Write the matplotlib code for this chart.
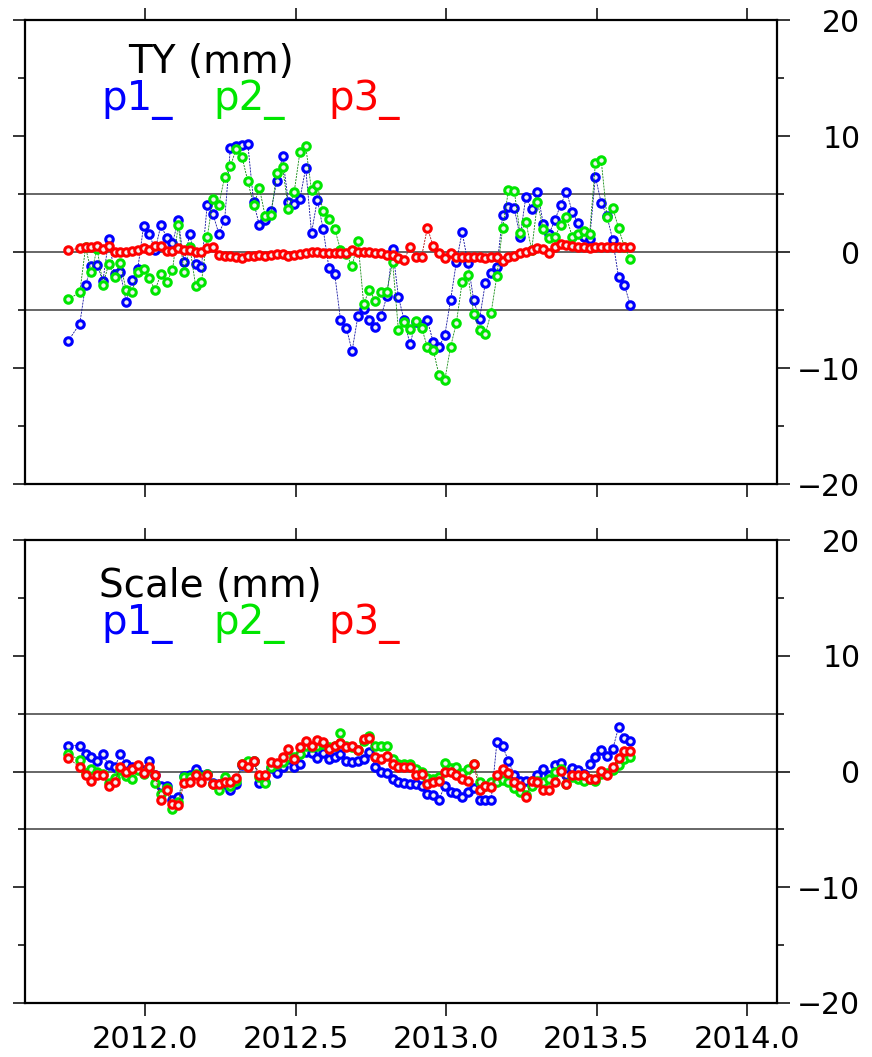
import numpy as np
import matplotlib
matplotlib.use("Agg")
import matplotlib.pyplot as plt

plt.rcParams['font.family'] = ['DejaVu Sans']

# ---------------- data ----------------
T0 = 2011.7436          # decimal year of first sample
STEP = 0.01926          # sampling step (years, ~weekly)
WEEK_INDEX = [0] + list(range(2, 98))   # sample 1 is missing

TY_P1 = [-7.67, -6.18, -2.84, -1.18, -1.12, -2.50, 1.12, -1.90, -1.75, -4.28,
         -2.39, -1.50, 2.21, 1.58, 0.14, 2.33, 1.24, 0.78, 2.73, -0.86,
         1.58, -1.06, -1.29, 4.08, 3.25, 1.58, 2.73, 9.00, 9.14, 9.25,
         9.34, 4.31, 2.30, 2.73, 3.53, 6.12, 8.25, 4.31, 4.10, 4.60,
         7.24, 1.64, 4.51, 2.00, -1.35, -1.87, -5.83, -6.52, -8.53, -5.55,
         -4.89, -5.89, -6.47, -5.55, -3.82, 0.29, -3.88, -5.89, -7.96, -6.03,
         -6.30, -5.89, -7.76, -8.19, -7.18, -4.17, -0.86, 1.72, -0.95, -4.17,
         -5.78, -2.67, -1.81, -1.30, 3.17, 3.90, 3.76, 1.32, 4.77, 3.68,
         5.20, 2.41, 1.55, 2.76, 4.05, 5.20, 3.48, 2.47, 1.32, 1.09,
         6.49, 4.25, 3.10, 1.03, -2.18, -2.84, -4.54]
TY_P2 = [-4.08, -3.48, 0.40, -1.75, 0.30, -2.84, -1.00, -2.16, -0.95, -3.30,
         -3.48, -1.75, -1.44, -2.27, -3.30, -1.87, -2.59, -1.58, 2.33, -1.75,
         0.43, -2.93, -2.59, 1.29, 4.57, 4.08, 6.47, 7.39, 8.90, 8.19,
         6.12, 4.02, 5.52, 3.10, 3.19, 6.81, 7.33, 3.74, 5.14, 8.62,
         9.11, 5.32, 5.75, 3.53, 2.82, 2.00, 0.20, -0.14, -1.24, 0.95,
         -4.45, -3.25, -4.22, -3.48, -3.42, -0.86, -6.75, -6.03, -6.61, -5.95,
         -6.52, -8.19, -8.42, -10.60, -11.06, -8.19, -6.12, -2.59, -2.01, -5.37,
         -6.75, -7.04, -5.24, -2.04, 2.11, 5.34, 5.26, 1.61, 2.61, 0.17,
         4.28, 1.95, 1.20, 1.32, 2.30, 2.99, 1.32, 1.55, 1.80, 1.55,
         7.64, 7.93, 2.99, 3.82, 2.04, 0.46, -0.63]
TY_P3 = [0.14, 0.34, 0.43, 0.43, 0.50, 0.26, 0.50, 0.00, 0.00, 0.00,
         0.06, 0.14, 0.34, 0.14, 0.52, 0.49, 0.06, 0.06, 0.31, 0.14,
         0.14, 0.00, 0.00, 0.31, 0.43, -0.29, -0.34, -0.37, -0.43, -0.49,
         -0.37, -0.34, -0.29, -0.37, -0.23, -0.20, -0.20, -0.34, -0.26, -0.14,
         -0.06, 0.00, 0.00, -0.09, -0.05, -0.05, -0.05, -0.05, 0.20, 0.00,
         0.00, 0.00, -0.05, -0.10, -0.30, -0.30, -0.50, -0.66, 0.43, -0.40,
         -0.40, 2.10, 0.49, -0.10, -0.50, -0.10, -0.40, -0.40, -0.40, -0.40,
         -0.45, -0.55, -0.46, -0.40, -0.75, -0.46, -0.34, -0.11, 0.03, 0.17,
         0.32, 0.23, -0.11, 0.46, 0.69, 0.60, 0.52, 0.46, 0.40, 0.32,
         0.40, 0.40, 0.40, 0.46, 0.46, 0.46, 0.46]

SC_P1 = [2.24, 2.24, 1.47, 1.24, 0.95, 1.47, 0.52, 0.37, 1.47, 0.66,
         0.37, 0.30, 0.10, 0.89, -0.34, -1.29, -1.21, -2.50, -2.21, -0.43,
         -0.26, 0.23, -0.34, -0.20, -1.00, -1.06, -1.12, -1.64, -1.06, 0.52,
         0.66, 0.95, -1.00, -0.90, 0.32, -0.14, 0.37, 1.10, 0.37, 0.66,
         1.67, 1.58, 1.18, 1.58, 1.09, 1.29, 1.52, 0.95, 0.80, 0.95,
         1.09, 1.67, 0.37, -0.06, -0.14, -0.63, -0.92, -1.00, -1.06, -1.12,
         -1.21, -1.93, -2.07, -2.44, -1.21, -1.78, -1.87, -2.21, -1.78, -1.41,
         -2.44, -2.50, -2.50, 2.53, 2.16, 0.89, -0.26, -0.78, -0.80, -0.78,
         -0.26, 0.23, -0.34, 0.52, 0.72, -0.34, 0.32, 0.14, -0.20, 0.66,
         1.24, 1.87, 1.38, 1.95, 3.82, 2.90, 2.67]
SC_P2 = [1.52, 1.00, -0.14, 0.23, 0.00, -0.20, -1.00, -0.60, 0.10, -0.43,
         -0.63, 0.10, -0.20, 0.32, -1.00, -1.93, -1.41, -3.20, -2.64, -0.50,
         -0.50, -0.20, -0.50, -0.20, -1.05, -1.58, -0.50, -1.21, -0.78, 0.66,
         0.95, 0.95, -0.50, -1.00, 0.37, 0.66, 0.80, 1.24, 1.24, 1.52,
         2.24, 2.10, 2.24, 2.40, 2.10, 2.20, 3.30, 2.24, 2.10, 1.90,
         2.60, 3.10, 2.16, 2.16, 2.24, 1.09, 0.66, 0.66, 0.66, 0.23,
         -0.06, -0.55, -0.63, -0.50, 0.72, 0.30, 0.37, -0.14, 0.23, 0.66,
         -0.92, -1.21, -0.92, -0.92, -0.72, -0.92, -1.41, -1.78, -2.07, -1.21,
         -0.78, -0.92, -0.63, -0.06, 0.23, -1.06, -0.50, -0.63, -0.78, -0.63,
         -0.78, -0.20, -0.14, 0.14, 0.52, 1.09, 1.24]
SC_P3 = [1.18, 0.37, -0.34, -0.78, -0.34, -0.26, -1.29, -0.92, 0.43, -0.06,
         0.23, 0.52, -0.14, 0.43, -0.30, -2.50, -1.64, -2.84, -2.93, -1.00,
         -0.92, -0.34, -0.92, -0.26, -1.12, -1.06, -0.92, -0.92, -0.55, 0.66,
         0.37, 0.95, -0.34, -0.26, 0.80, 0.72, 1.29, 1.95, 1.09, 2.10,
         2.67, 2.24, 2.73, 2.53, 1.95, 2.24, 2.44, 2.10, 2.24, 1.87,
         2.82, 2.90, 1.24, 1.09, 1.38, 0.66, 0.43, 0.37, 0.37, -0.34,
         -0.20, -1.06, -0.92, -0.78, -0.06, -0.06, -0.34, -0.63, -0.78, 0.66,
         -1.64, -1.21, -1.35, -0.26, 0.23, -0.14, -0.92, -1.21, -2.21, -0.78,
         -0.92, -1.64, -1.64, -0.92, 0.03, -1.12, -0.34, -0.26, -0.34, -0.63,
         -0.63, 0.03, -0.34, 0.43, 1.18, 1.75, 1.75]

PANEL_TITLES = ["TY (mm)", "Scale (mm)"]
SERIES_NAMES = ["p1_", "p2_", "p3_"]
X_TICKS = [2012.0, 2012.5, 2013.0, 2013.5, 2014.0]
Y_MAJOR = [-20, -10, 0, 10, 20]
Y_MINOR = [-15, -5, 5, 15]
REF_LINES = [-5, 0, 5]

COLORS = ['#0000ff', '#00e600', '#ff0000']
LINE_COLORS = ['#1010a0', '#108a10', '#b01010']

t = T0 + STEP * np.array(WEEK_INDEX)

W, H = 872, 1057
fig = plt.figure(figsize=(W / 100, H / 100), dpi=100)
ax1 = fig.add_axes([25 / W, 1 - 484 / H, 752 / W, 464 / H])
ax2 = fig.add_axes([25 / W, 1 - 1003 / H, 752 / W, 463 / H])

panels = [(ax1, [TY_P1, TY_P2, TY_P3], PANEL_TITLES[0], 0.137, 0.885),
          (ax2, [SC_P1, SC_P2, SC_P3], PANEL_TITLES[1], 0.099, 0.876)]

for k, (ax, series, title, tx, ty) in enumerate(panels):
    ax.set_xlim(2011.6, 2014.1)
    ax.set_ylim(-20, 20)
    for yv in REF_LINES:
        ax.axhline(yv, color='#666666', lw=1.4, zorder=1)
    for j, vals in enumerate(series):
        ax.plot(t, vals, color=LINE_COLORS[j], lw=0.6, ls=(0, (2.5, 1.2)),
                zorder=2 + j)
        ax.plot(t, vals, ls='none', marker='o', ms=5.4, mew=2.2,
                mec=COLORS[j], mfc='#f0f0f0', zorder=2.5 + j)
    ax.set_xticks(X_TICKS)
    ax.set_xticklabels([f"{v:.1f}" for v in X_TICKS])
    ax.set_yticks(Y_MAJOR)
    ax.set_yticks(Y_MINOR, minor=True)
    ax.set_yticklabels([str(v).replace('-', '\u2212') for v in Y_MAJOR])
    ax.tick_params(axis='x', which='major', direction='out', length=9, width=1.1,
                   top=True, bottom=True, labeltop=False,
                   labelbottom=(k == 1), labelsize=22, pad=7)
    ax.tick_params(axis='x', which='minor', top=False, bottom=False)
    ax.tick_params(axis='y', which='major', direction='out', length=9, width=1.1,
                   left=True, right=True, labelleft=False, labelright=True,
                   labelsize=21.5, pad=51)
    ax.tick_params(axis='y', which='minor', direction='out', length=5, width=1.1,
                   left=True, right=True)
    for tk in ax.yaxis.get_major_ticks():
        tk.label2.set_horizontalalignment('right')
    for sp in ax.spines.values():
        sp.set_linewidth(1.6)
    ax.text(tx, ty, title, transform=ax.transAxes, fontsize=28,
            color='black', va='baseline', ha='left')
    for j, (name, xp) in enumerate(zip(SERIES_NAMES, [0.102, 0.250, 0.403])):
        ax.text(xp, ty - 0.079, name, transform=ax.transAxes, fontsize=29,
                color=COLORS[j], va='baseline', ha='left')

fig.savefig("out.png", dpi=100)
